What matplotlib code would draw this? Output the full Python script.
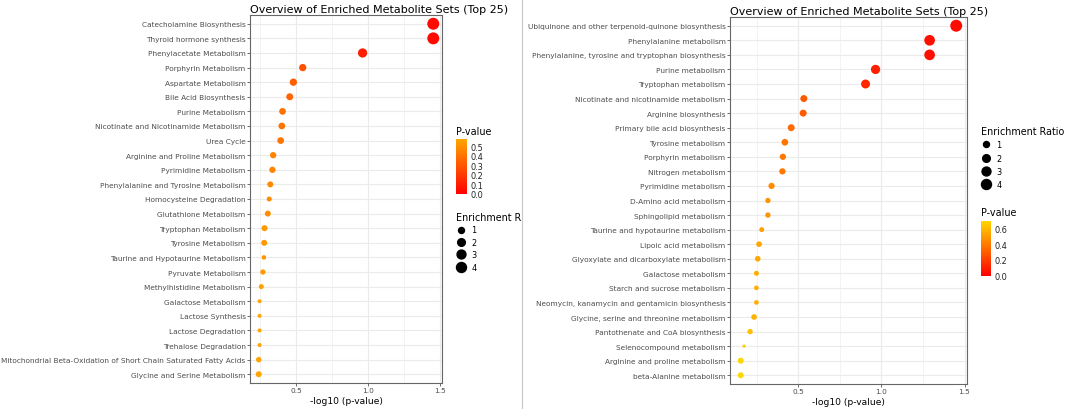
import numpy as np
import matplotlib.pyplot as plt
from matplotlib.colors import LinearSegmentedColormap, Normalize
from matplotlib.cm import ScalarMappable
from matplotlib.lines import Line2D

# left panel (SMPDB style names)
left_sets = [
    "Catecholamine Biosynthesis", "Thyroid hormone synthesis", "Phenylacetate Metabolism",
    "Porphyrin Metabolism", "Aspartate Metabolism", "Bile Acid Biosynthesis",
    "Purine Metabolism", "Nicotinate and Nicotinamide Metabolism", "Urea Cycle",
    "Arginine and Proline Metabolism", "Pyrimidine Metabolism",
    "Phenylalanine and Tyrosine Metabolism", "Homocysteine Degradation",
    "Glutathione Metabolism", "Tryptophan Metabolism", "Tyrosine Metabolism",
    "Taurine and Hypotaurine Metabolism", "Pyruvate Metabolism",
    "Methylhistidine Metabolism", "Galactose Metabolism", "Lactose Synthesis",
    "Lactose Degradation", "Trehalose Degradation",
    "Mitochondrial Beta-Oxidation of Short Chain Saturated Fatty Acids",
    "Glycine and Serine Metabolism",
]
left_logp = [1.45, 1.45, 0.96, 0.545, 0.48, 0.455, 0.405, 0.40, 0.392, 0.34, 0.335,
             0.32, 0.313, 0.303, 0.28, 0.278, 0.276, 0.269, 0.258, 0.246, 0.246,
             0.246, 0.246, 0.24, 0.24]
left_ratio = [6.2, 6.2, 3.3, 1.75, 1.75, 1.55, 1.4, 1.4, 1.4, 1.15, 1.15, 1.0, 0.56,
              1.0, 1.0, 1.0, 0.4, 0.7, 0.56, 0.25, 0.25, 0.25, 0.25, 0.77, 1.0]

# right panel (KEGG style names)
right_sets = [
    "Ubiquinone and other terpenoid-quinone biosynthesis", "Phenylalanine metabolism",
    "Phenylalanine, tyrosine and tryptophan biosynthesis", "Purine metabolism",
    "Tryptophan metabolism", "Nicotinate and nicotinamide metabolism",
    "Arginine biosynthesis", "Primary bile acid biosynthesis", "Tyrosine metabolism",
    "Porphyrin metabolism", "Nitrogen metabolism", "Pyrimidine metabolism",
    "D-Amino acid metabolism", "Sphingolipid metabolism",
    "Taurine and hypotaurine metabolism", "Lipoic acid metabolism",
    "Glyoxylate and dicarboxylate metabolism", "Galactose metabolism",
    "Starch and sucrose metabolism", "Neomycin, kanamycin and gentamicin biosynthesis",
    "Glycine, serine and threonine metabolism", "Pantothenate and CoA biosynthesis",
    "Selenocompound metabolism", "Arginine and proline metabolism",
    "beta-Alanine metabolism",
]
right_logp = [1.45, 1.29, 1.29, 0.965, 0.905, 0.534, 0.53, 0.458, 0.42, 0.408, 0.405,
              0.34, 0.318, 0.318, 0.281, 0.265, 0.257, 0.249, 0.249, 0.249, 0.235,
              0.211, 0.175, 0.155, 0.155]
right_ratio = [6.2, 4.7, 4.7, 3.3, 3.0, 1.55, 1.55, 1.55, 1.4, 1.15, 1.15, 1.15, 0.7,
               0.7, 0.56, 0.85, 0.85, 0.56, 0.45, 0.45, 0.85, 0.7, 0.1, 1.0, 1.0]

size_breaks = [1, 2, 3, 4]

W, H = 1065, 410
TXT = "#4D4D4D"


def box(x0, y0, x1, y1):
    return [x0 / W, 1 - y1 / H, (x1 - x0) / W, (y1 - y0) / H]


def dot_pt(r):
    # dot diameter in points
    return (2 + 4 * np.sqrt(np.asarray(r, dtype=float))) * 0.72


def panel(ax, sets, logp, ratio, cmap):
    p = 10 ** (-np.array(logp))
    norm = Normalize(0, p.max())
    y = np.arange(len(sets))
    ax.scatter(logp, y, s=dot_pt(ratio) ** 2, c=p, cmap=cmap, norm=norm,
               edgecolors="none", zorder=3)
    ax.set_yticks(y)
    ax.set_yticklabels(sets)
    ax.set_ylim(len(sets) - 0.4, -0.6)
    lo, hi = min(logp), max(logp)
    pad = 0.05 * (hi - lo)
    ax.set_xlim(lo - pad, hi + pad)
    ax.set_xticks([0.5, 1.0, 1.5])
    ax.set_xticklabels(["0.5", "1.0", "1.5"])
    ax.set_xticks([0.25, 0.75, 1.25], minor=True)
    ax.grid(True, which="major", color="#EBEBEB", lw=0.8, zorder=0)
    ax.grid(True, which="minor", axis="x", color="#EBEBEB", lw=0.4, zorder=0)
    ax.set_axisbelow(True)
    ax.tick_params(axis="both", which="major", labelsize=5.3, labelcolor=TXT,
                   color="#333333", length=2, width=0.5, pad=1.2)
    ax.tick_params(which="minor", length=0)
    for sp in ax.spines.values():
        sp.set_color("#666666")
        sp.set_linewidth(0.8)
    ax.set_xlabel("-log10 (p-value)", fontsize=6.6, labelpad=1.5)
    ax.set_title("Overview of Enriched Metabolite Sets (Top 25)", loc="left",
                 fontsize=8.0, pad=2.5)
    return norm


def pbar(cax, norm, cmap, ticks, fmt):
    cb = fig.colorbar(ScalarMappable(norm=norm, cmap=cmap), cax=cax)
    cb.outline.set_visible(False)
    cb.set_ticks(ticks)
    cb.set_ticklabels([fmt % t for t in ticks])
    cb.ax.tick_params(length=0, labelsize=5.9, pad=2.5, labelcolor="#222222")
    return cb


def size_legend(title, x, y, spacing):
    handles = [Line2D([], [], marker="o", ls="", color="black", markersize=dot_pt(v))
               for v in size_breaks]
    fig.legend(handles, [str(v) for v in size_breaks], loc="upper left",
               bbox_to_anchor=(x / W, 1 - y / H), frameon=False, title=title,
               alignment="left", fontsize=5.9, title_fontsize=6.9, borderpad=0,
               borderaxespad=0, handlelength=1.3, handletextpad=0.6,
               labelspacing=spacing)


fig = plt.figure(figsize=(W / 100, H / 100), dpi=100)

cmap_l = LinearSegmentedColormap.from_list("lp", ["#FF0000", "#FFA500"])
cmap_r = LinearSegmentedColormap.from_list("rp", ["#FF0000", "#FFD700"])

ax1 = fig.add_axes(box(250, 16, 442, 384))
n1 = panel(ax1, left_sets, left_logp, left_ratio, cmap_l)
ax2 = fig.add_axes(box(730, 18, 967, 385))
n2 = panel(ax2, right_sets, right_logp, right_ratio, cmap_r)

# left legends: P-value on top, enrichment below
fig.text(455.7 / W, 1 - 131.7 / H, "P-value", fontsize=6.9, va="center")
pbar(fig.add_axes(box(455.7, 140, 466.7, 195)), n1, cmap_l,
     [0, 0.1, 0.2, 0.3, 0.4, 0.5], "%.1f")
size_legend("Enrichment R", 455.7, 213, 0.42)

# right legends: enrichment on top, P-value below
size_legend("Enrichment Ratio", 980.7, 127, 0.52)
fig.text(980.7 / W, 1 - 212.7 / H, "P-value", fontsize=6.9, va="center")
pbar(fig.add_axes(box(980.7, 221.7, 991, 276.7)), n2, cmap_r,
     [0, 0.2, 0.4, 0.6], "%.1f")

# edge of the left image
fig.add_artist(Line2D([522 / W, 522 / W], [0, 1], color="#C8C8C8", lw=0.8))

fig.savefig("out.png", dpi=100)
